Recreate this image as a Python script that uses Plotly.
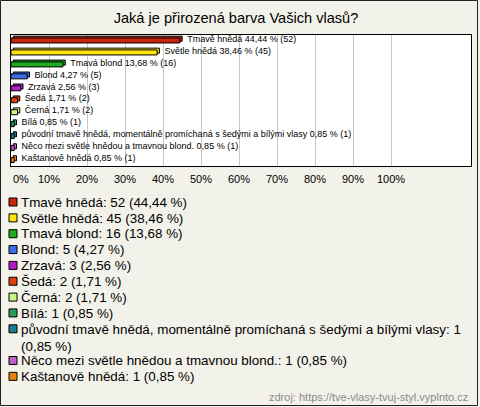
import plotly.graph_objects as go

categories = ["Tmavě hnědá", "Světle hnědá", "Tmavá blond", "Blond", "Zrzavá", "Šedá", "Černá", "Bílá",
              "původní tmavě hnědá, momentálně promíchaná s šedými a bílými vlasy",
              "Něco mezi světle hnědou a tmavnou blond.", "Kaštanově hnědá"]
counts = [52, 45, 16, 5, 3, 2, 2, 1, 1, 1, 1]
percents = [44.44, 38.46, 13.68, 4.27, 2.56, 1.71, 1.71, 0.85, 0.85, 0.85, 0.85]
colors = ["#c8260e", "#fbe40c", "#1fae1f", "#3c6ee6", "#b41ec8", "#e0400c", "#c8f588",
          "#2a9a5a", "#1f7a94", "#c060c8", "#e8820e"]
tick_vals = [0, 10, 20, 30, 40, 50, 60, 70, 80, 90, 100]
tick_text = ["0%", "10%", "20%", "30%", "40%", "50%", "60%", "70%", "80%", "90%", "100%"]
legend_wrap_at = 8  # the entry whose legend text wraps to a 2nd line

W, H = 480, 407
FONT = "Liberation Sans, Arial, sans-serif"
BG = "#f3f2ea"

def fmt(p):
    return f"{p:.2f}".replace(".", ",")

# first tick label sits inside the plot edge in the original -> drawn as left-anchored text
tick_labels = [""] + tick_text[1:]

fig = go.Figure()

bar_w = 0.42
depth_x = 0.6     # depth of the 3D effect along value axis (in %)
depth_y = 0.15    # depth of the 3D effect along category axis

for i, cat in enumerate(categories):
    # back face (3D depth)
    fig.add_trace(go.Bar(
        y=[cat], x=[percents[i]], base=[depth_x], orientation="h",
        width=bar_w, offset=-bar_w / 2 - depth_y,
        marker=dict(color=colors[i], line=dict(color="black", width=1)),
        text=["\u00a0\u00a0" + f"{cat} {fmt(percents[i])} % ({counts[i]})"],
        textposition="outside", constraintext="none", cliponaxis=False,
        textfont=dict(family=FONT, size=9, color="black"),
        showlegend=False, hoverinfo="skip", xaxis="x", yaxis="y"))
    # front face
    fig.add_trace(go.Bar(
        y=[cat], x=[percents[i]], orientation="h",
        width=bar_w, offset=-bar_w / 2,
        marker=dict(color=colors[i], line=dict(color="black", width=1)),
        showlegend=False, xaxis="x", yaxis="y"))

# custom legend on a hidden pixel-like axis (below the main plot)
LEG_TOP = 188
row0, step = 202, 15.85
rows = []
for i in range(len(categories)):
    k = i if i <= legend_wrap_at else i + 1
    rows.append(row0 + step * k)

SW_X = 13
TXT_X = 18.5
fig.add_trace(go.Scatter(
    x=[SW_X] * len(categories), y=rows, mode="markers",
    marker=dict(symbol="square", size=8, color=colors, line=dict(color="black", width=1)),
    showlegend=False, hoverinfo="skip", xaxis="x2", yaxis="y2", cliponaxis=False))

annotations = []
for i, cat in enumerate(categories):
    label = f"{cat}: {counts[i]} ({fmt(percents[i])} %)"
    if i == legend_wrap_at:
        label = f"{cat}: {counts[i]}<br>({fmt(percents[i])} %)"
    annotations.append(dict(
        x=TXT_X / W, y=1 - (rows[i] - 9.3) / H, xref="paper", yref="paper",
        xanchor="left", yanchor="top",
        text=label, showarrow=False, align="left",
        font=dict(family=FONT, size=13.4, color="black")))

# the "0%" tick label, left-aligned at the plot edge
annotations.append(dict(
    x=tick_vals[0], xref="x", y=1 - 179 / H, yref="paper", xanchor="left", yanchor="middle",
    text=tick_text[0], showarrow=False,
    font=dict(family=FONT, size=11, color="black")))

annotations.append(dict(
    x=470 / W, y=1 - 397 / H, xref="paper", yref="paper", xanchor="right", yanchor="middle",
    text="zdroj: https://tve-vlasy-tvuj-styl.vyplnto.cz", showarrow=False,
    font=dict(family=FONT, size=11, color="#8a8a8a")))

fig.update_layout(
    width=W, height=H,
    margin=dict(l=0, r=0, t=0, b=0, autoexpand=False),
    paper_bgcolor=BG, plot_bgcolor="rgba(0,0,0,0)",
    barmode="overlay",
    showlegend=False,
    title=dict(text="Jaká je přirozená barva Vašich vlasů?", x=236 / W, xanchor="center",
               y=1 - 18 / H, yanchor="middle", automargin=False,
               font=dict(family=FONT, size=14.6, color="black")),
    xaxis=dict(domain=[11 / W, 471 / W], range=[0, 460 / 3.8], automargin=False,
               tickvals=tick_vals, ticktext=tick_labels, showgrid=True, gridcolor="#c8c8c8",
               gridwidth=1, zeroline=False, showline=True, mirror=True, linecolor="black",
               linewidth=1, ticks="", ticklabelstandoff=3,
               tickfont=dict(family=FONT, size=11, color="black"), fixedrange=True),
    yaxis=dict(domain=[1 - 166 / H, 1 - 34.5 / H], type="category", automargin=False,
               categoryorder="array", categoryarray=categories, autorange="reversed",
               showticklabels=False, showgrid=False, zeroline=False, showline=True,
               mirror=True, linecolor="black", linewidth=1, ticks="", fixedrange=True),
    xaxis2=dict(domain=[0, 1], range=[0, W], visible=False, anchor="y2", fixedrange=True,
                automargin=False),
    yaxis2=dict(domain=[0, 1 - LEG_TOP / H], range=[H, LEG_TOP], visible=False,
                anchor="x2", fixedrange=True, automargin=False),
    annotations=annotations,
    shapes=[
        dict(type="rect", xref="x domain", yref="y domain", x0=0, x1=1, y0=0, y1=1,
             fillcolor="white", line=dict(width=0), layer="below"),
        dict(type="rect", xref="paper", yref="paper", x0=0.5 / W, x1=477.5 / W,
             y0=1 - 405.5 / H, y1=1 - 0.5 / H, line=dict(color="#222222", width=1),
             fillcolor="rgba(0,0,0,0)"),
    ],
)

fig.write_html("out.html", config={"displayModeBar": False},
               post_script="document.body.style.margin='0';")
